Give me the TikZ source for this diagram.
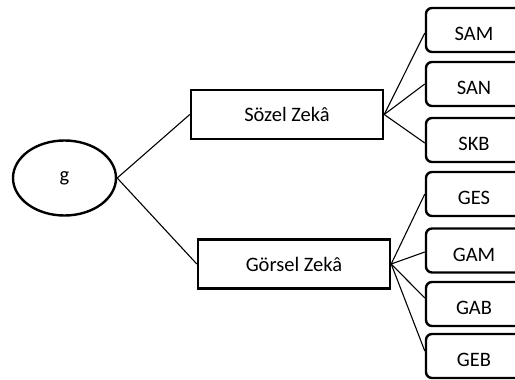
\documentclass[tikz,border=0pt]{standalone}
\usepackage{fontspec}
\setmainfont{Carlito}
\usetikzlibrary{shapes.geometric}
\begin{document}
\begin{tikzpicture}[x=1pt,y=-1pt,
  every node/.style={font=\fontsize{20.5}{24}\selectfont, inner sep=0pt},
  factor/.style={draw, line width=2.4pt, ellipse, minimum width=103pt, minimum height=75pt},
  midbox/.style={draw, line width=2.4pt, rectangle, minimum width=192pt, minimum height=49pt},
  leaf/.style={draw, line width=2.4pt, rectangle, rounded corners=6pt,
    minimum width=96pt, minimum height=44pt, text height=21pt, text depth=0pt},
  link/.style={line width=1.1pt}]
  \useasboundingbox (0,0) rectangle (515,380);
  \clip (0,0) rectangle (515,380);

  % general factor and the two broad abilities
  \node[factor] (g) at (64.5,178) {g};
  \node[midbox] (soz) at (287,114.5) {Sözel Zekâ};
  \node[midbox] (gor) at (294,264) {Görsel Zekâ};

  % verbal subtests
  \node[leaf] (sam) at (474,30) {SAM};
  \node[leaf] (san) at (474,84) {SAN};
  \node[leaf] (skb) at (474,140) {SKB};

  % visual subtests
  \node[leaf] (ges) at (474,194) {GES};
  \node[leaf] (gam) at (474,250.5) {GAM};
  \node[leaf] (gab) at (474,304) {GAB};
  \node[leaf] (geb) at (474,356) {GEB};

  % connectors
  \draw[link] (g.east) -- (soz.west);
  \draw[link] (g.east) -- (gor.west);

  \draw[link] (soz.east) -- ([yshift=-3pt]sam.west);
  \draw[link] (soz.east) -- (san.west);
  \draw[link] (soz.east) -- ([yshift=-3pt]skb.west);

  \draw[link] (gor.east) -- (ges.west);
  \draw[link] (gor.east) -- ([yshift=-1.5pt]gam.west);
  \draw[link] (gor.east) -- ([yshift=6pt]gab.west);
  \draw[link] (gor.east) -- ([yshift=5pt]geb.west);
\end{tikzpicture}
\end{document}
